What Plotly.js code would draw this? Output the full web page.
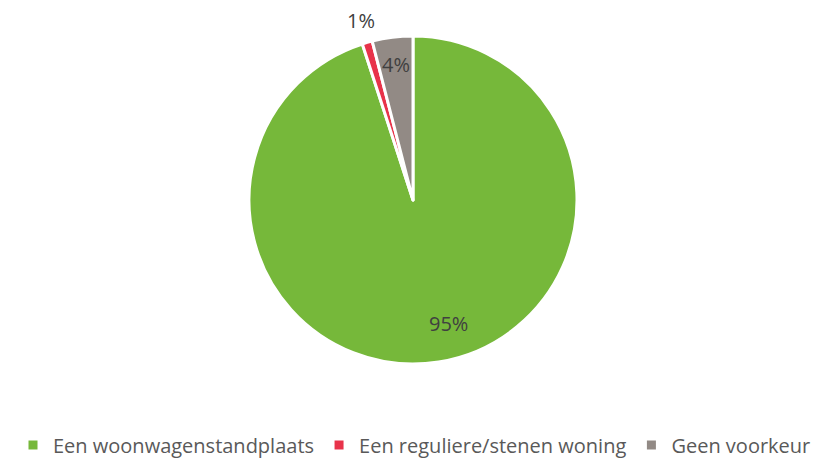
<!DOCTYPE html>
<html>
<head>
<meta charset="utf-8">
<script src="https://cdn.plot.ly/plotly-3.0.1.min.js"></script>
<style>html,body{margin:0;padding:0;background:#fff;}#chart{width:829px;height:460px;}</style>
</head>
<body>
<div id="chart"></div>
<script>
const categories = ["Een woonwagenstandplaats", "Een reguliere/stenen woning", "Geen voorkeur"];
const values = [95, 1, 4];
const labelsText = ["95%", "1%", "4%"];
const colors = ["#76B83A", "#E8334A", "#928A85"];

const W = 829, H = 460;
const cx = 413, cy = 200, r = 164;
// label radius factors (fraction of pie radius) and small pixel nudges for each slice label
const labelRadius = [0.76, 1.14, 0.83];
const labelShiftX = [16, 0, 0];

const trace = {
  type: "pie",
  labels: categories,
  values: values,
  textinfo: "none",
  sort: false,
  direction: "clockwise",
  rotation: 0,
  marker: {colors: colors, line: {color: "#ffffff", width: 3}},
  domain: {x: [(cx - r) / W, (cx + r) / W], y: [(H - cy - r) / H, (H - cy + r) / H]},
  hoverinfo: "label+percent",
  automargin: false
};

// place data labels at the middle angle of each slice (derived from the values)
const total = values.reduce((a, b) => a + b, 0);
const annotations = [];
let acc = 0;
values.forEach((v, i) => {
  const mid = (acc + v / 2) / total * 2 * Math.PI;
  acc += v;
  const rr = r * labelRadius[i];
  const px = cx + rr * Math.sin(mid);
  const py = cy - rr * Math.cos(mid);
  annotations.push({
    xref: "paper", yref: "paper", x: px / W, y: 1 - py / H,
    xanchor: "center", yanchor: "middle", showarrow: false,
    xshift: labelShiftX[i],
    text: labelsText[i],
    font: {family: "Open Sans, sans-serif", size: 20, color: "#404040"}
  });
});

const layout = {
  width: W, height: H,
  margin: {l: 0, r: 0, t: 0, b: 0, autoexpand: false},
  paper_bgcolor: "#ffffff",
  showlegend: true,
  legend: {
    orientation: "h", x: 0.5, xanchor: "center", y: 1 - 445 / H, yanchor: "middle",
    font: {family: "Open Sans, sans-serif", size: 20, color: "#595959"},
    traceorder: "normal", itemwidth: 30, tracegroupgap: 0
  },
  annotations: annotations,
  font: {family: "Open Sans, sans-serif"}
};

Plotly.newPlot("chart", [trace], layout, {displayModeBar: false, staticPlot: true});
</script>
</body>
</html>
